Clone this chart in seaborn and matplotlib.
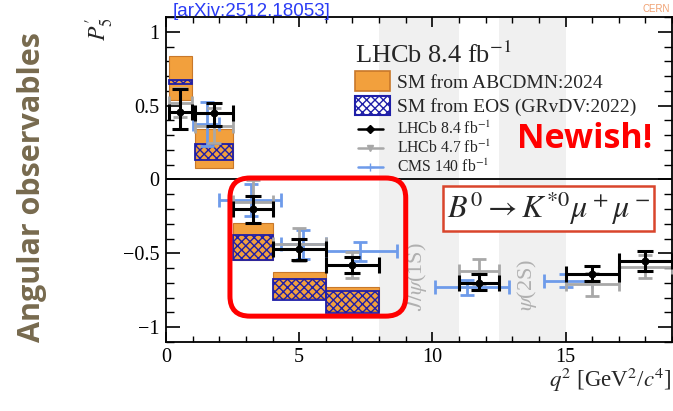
import numpy as np
import pandas as pd
import matplotlib
matplotlib.use("Agg")
import matplotlib.pyplot as plt
import seaborn as sns
from matplotlib.patches import Patch, FancyBboxPatch
from matplotlib.lines import Line2D
from matplotlib.ticker import MultipleLocator

# LHCb 8.4 fb-1 (black)
lhcb84_lo = [0.1, 1.1, 2.5, 4.0, 6.0, 11.0, 15.0, 17.0]
lhcb84_hi = [0.98, 2.5, 4.0, 6.0, 8.0, 12.5, 17.0, 19.0]
lhcb84_x = [0.54, 1.8, 3.25, 5.0, 7.0, 11.75, 16.0, 18.0]
lhcb84_y = [0.46, 0.45, -0.20, -0.47, -0.58, -0.70, -0.64, -0.553]
lhcb84_up = [0.61, 0.52, -0.113, -0.405, -0.525, -0.64, -0.587, -0.485]
lhcb84_dn = [0.34, 0.365, -0.295, -0.545, -0.635, -0.75, -0.69, -0.62]

# LHCb 4.7 fb-1 (grey)
lhcb47_x = [0.54, 1.8, 3.25, 5.0, 7.0, 11.75, 16.0, 18.0]
lhcb47_y = [0.52, 0.365, -0.15, -0.44, -0.58, -0.62, -0.71, -0.59]
lhcb47_err = [0.10, 0.12, 0.145, 0.11, 0.09, 0.085, 0.08, 0.08]

# CMS 140 fb-1 (blue)
cms_lo = [1.0, 2.0, 4.3, 6.0, 10.09, 14.18]
cms_hi = [2.0, 4.3, 6.0, 8.68, 12.86, 16.0]
cms_x = [1.55, 3.2, 5.15, 7.3, 11.3, 15.0]
cms_y = [0.375, -0.14, -0.44, -0.486, -0.73, -0.685]
cms_err = [0.15, 0.11, 0.10, 0.065, 0.05, 0.045]

# SM predictions
sm_lo = [0.1, 1.1, 2.5, 4.0, 6.0]
sm_hi = [0.98, 2.5, 4.0, 6.0, 8.0]
abcdmn_lo = [0.54, 0.075, -0.545, -0.80, -0.89]
abcdmn_hi = [0.835, 0.34, -0.297, -0.627, -0.727]
eos_lo = [0.647, 0.13, -0.546, -0.817, -0.903]
eos_hi = [0.675, 0.243, -0.373, -0.672, -0.756]

# vetoed charmonium regions
veto_lo = [8.0, 12.5]
veto_hi = [11.0, 15.0]

orange = "#F2A03D"
orange_edge = "#C8782A"
navy = "#1F1FA8"
grey = "#A8A8A8"
cms_blue = "#6E9BEA"

sns.set_theme(style="ticks")
plt.rcParams["font.family"] = ["Liberation Serif", "DejaVu Serif"]
plt.rcParams["mathtext.fontset"] = "stix"
plt.rcParams["hatch.linewidth"] = 1.0
plt.rcParams["axes.edgecolor"] = "black"

fig = plt.figure(figsize=(6.73, 4.11), dpi=100)
ax = fig.add_axes([0.2467, 0.1679, 0.7519, 0.7908])

for lo, hi in zip(veto_lo, veto_hi):
    ax.axvspan(lo, hi, color="#F0F0F0", lw=0, zorder=0)

w = np.array(sm_hi) - np.array(sm_lo)
ax.bar(sm_lo, np.array(abcdmn_hi) - np.array(abcdmn_lo), width=w, bottom=abcdmn_lo,
       align="edge", color=orange, edgecolor=orange_edge, lw=0.8, zorder=1)
ax.bar(sm_lo, np.array(eos_hi) - np.array(eos_lo), width=w, bottom=eos_lo,
       align="edge", fill=False, hatch="xxxx", edgecolor=navy, lw=1.3, zorder=2)

ax.axhline(0, color="black", lw=1.3, zorder=2)

# CMS
cx = np.array(cms_x)
ax.errorbar(cms_x, cms_y, yerr=cms_err,
            xerr=[cx - np.array(cms_lo), np.array(cms_hi) - cx],
            fmt="none", ecolor=cms_blue, elinewidth=2, capsize=5, capthick=2, zorder=3)
# LHCb 4.7
lx = np.array(lhcb84_x)
ax.errorbar(lhcb47_x, lhcb47_y, yerr=lhcb47_err,
            xerr=[lx - np.array(lhcb84_lo), np.array(lhcb84_hi) - lx],
            fmt="none", ecolor=grey, elinewidth=2, capsize=5, capthick=2, zorder=4)
# LHCb 8.4
ly = np.array(lhcb84_y)
ax.errorbar(lhcb84_x, lhcb84_y,
            yerr=[ly - np.array(lhcb84_dn), np.array(lhcb84_up) - ly],
            xerr=[lx - np.array(lhcb84_lo), np.array(lhcb84_hi) - lx],
            fmt="none", ecolor="black", elinewidth=2.2, capsize=5.5, capthick=2.2, zorder=5)
pts = pd.DataFrame({"q2": lhcb84_x, "P5p": lhcb84_y})
sns.scatterplot(data=pts, x="q2", y="P5p", color="black", marker="o", s=32,
                edgecolor="black", linewidth=0, zorder=6, ax=ax, legend=False)

ax.set_xlim(0, 19)
ax.set_ylim(-1.1, 1.1)
ax.set_xlabel("")
ax.set_ylabel("")
ax.xaxis.set_major_locator(MultipleLocator(5))
ax.xaxis.set_minor_locator(MultipleLocator(1))
ax.yaxis.set_major_locator(MultipleLocator(0.5))
ax.yaxis.set_minor_locator(MultipleLocator(0.1))
ax.tick_params(axis="both", which="both", direction="in", top=True, right=True,
               colors="black", labelsize=14.5)
ax.tick_params(axis="x", which="major", length=7, width=1.2, pad=4)
ax.tick_params(axis="x", which="minor", length=4.5, width=1.0)
ax.tick_params(axis="y", which="major", length=10, width=1.2, pad=5)
ax.tick_params(axis="y", which="minor", length=6, width=1.0)
ax.set_yticks([-1, -0.5, 0, 0.5, 1])
ax.set_yticklabels(["\u22121", "\u22120.5", "0", "0.5", "1"])
for s in ax.spines.values():
    s.set_linewidth(1.3)

# legends
leg1 = ax.legend(handles=[Patch(facecolor=orange, edgecolor=orange_edge, lw=1.2),
                          Patch(facecolor="white", edgecolor=navy, hatch="xxxx", lw=1.5)],
                 labels=["SM from ABCDMN:2024", "SM from EOS (GRvDV:2022)"],
                 title="LHCb 8.4 fb$^{-1}$", title_fontsize=19, fontsize=14,
                 alignment="left", loc="upper left", bbox_to_anchor=(0.373, 0.925),
                 frameon=False, borderpad=0, borderaxespad=0, handlelength=1.8,
                 handleheight=1.15, handletextpad=0.35, labelspacing=0.2)
ax.add_artist(leg1)
ax.legend(handles=[Line2D([], [], color="black", marker="D", ms=4, lw=1.8),
                   Line2D([], [], color=grey, marker="v", ms=4, lw=1.8),
                   Line2D([], [], color=cms_blue, marker="+", ms=6, lw=1.8)],
          labels=["LHCb 8.4 fb$^{-1}$", "LHCb 4.7 fb$^{-1}$", "CMS 140 fb$^{-1}$"],
          fontsize=11.3, loc="upper left", bbox_to_anchor=(0.379, 0.68),
          frameon=False, borderpad=0, borderaxespad=0, handlelength=1.6,
          handletextpad=0.9, labelspacing=0.1)

ax.text(0.9605, 0.597, "Newish!", transform=ax.transAxes, ha="right", va="baseline",
        color="#FF0000", fontsize=24.5, fontweight="bold", family=["Open Sans", "DejaVu Sans"],
        zorder=7)

ax.text(0.756, 0.411, r"$B^0 \rightarrow K^{*0}\mu^+\mu^-$", transform=ax.transAxes,
        ha="center", va="center", fontsize=23, zorder=7,
        bbox=dict(boxstyle="square,pad=0.12", fc="white", ec="#D9452C", lw=1.8))

ax.text(9.42, -0.89, r"$J/\psi$(1S)", rotation=90, ha="center", va="bottom",
        color="#B0B0B0", fontsize=16, zorder=1)
ax.text(13.55, -0.89, r"$\psi$(2S)", rotation=90, ha="center", va="bottom",
        color="#B0B0B0", fontsize=16, zorder=1)

ax.add_patch(FancyBboxPatch((2.4, -0.925), 6.6, 0.935,
                            boxstyle="round,pad=0,rounding_size=0.75",
                            mutation_aspect=0.18, fill=False, ec="#FF0000", lw=3.6,
                            zorder=8))

fig.text(0.998, 0.058, r"$q^2$ [GeV$^2$/$c^4$]", ha="right", va="baseline", fontsize=16.5)
fig.text(0.149, 0.958, r"$P_5'$", rotation=90, ha="center", va="top", fontsize=17)
fig.text(0.047, 0.544, "Angular observables", rotation=90, ha="center", va="center",
         color="#776A4E", fontsize=22, fontweight="bold",
         family=["Open Sans", "DejaVu Sans"])
fig.text(0.257, 0.962, "[arXiv:2512.18053]", ha="left", va="baseline", color="#2B3CF5",
         fontsize=13.5, family=["Liberation Sans", "DejaVu Sans"])
fig.text(0.955, 0.972, "CERN", ha="left", va="baseline", color="#F0A070",
         fontsize=7, family=["Liberation Sans", "DejaVu Sans"])

fig.savefig("out.png", dpi=100)
